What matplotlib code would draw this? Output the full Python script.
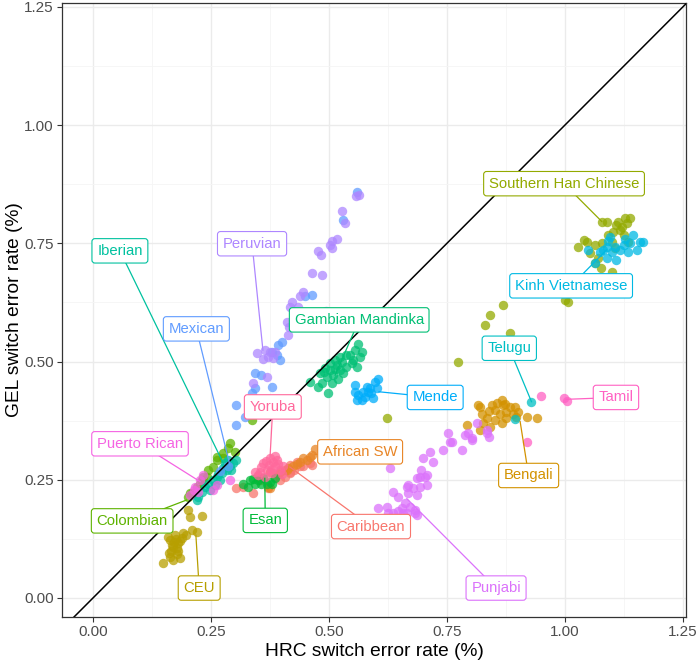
import numpy as np
import matplotlib
matplotlib.use('Agg')
import matplotlib.pyplot as plt

plt.rcParams['font.family'] = ['Liberation Sans', 'DejaVu Sans']

# HRC (x) vs GEL (y) switch error rate, % -- one pair of lists per population
acb_x = [0.304, 0.318, 0.340, 0.371, 0.417, 0.439, 0.463, 0.417, 0.432, 0.446, 0.460, 0.396, 0.386, 0.407, 0.417, 0.350, 0.392, 0.425]
acb_y = [0.232, 0.235, 0.221, 0.232, 0.267, 0.278, 0.281, 0.281, 0.288, 0.278, 0.285, 0.249, 0.256, 0.256, 0.264, 0.258, 0.262, 0.270]

asw_x = [0.354, 0.375, 0.407, 0.414, 0.439, 0.453, 0.460, 0.470, 0.375, 0.463, 0.424, 0.410, 0.396, 0.371, 0.445, 0.432]
asw_y = [0.249, 0.267, 0.271, 0.274, 0.288, 0.292, 0.299, 0.316, 0.232, 0.302, 0.278, 0.271, 0.267, 0.235, 0.295, 0.283]

beb_x = [0.820, 0.824, 0.845, 0.855, 0.866, 0.869, 0.852, 0.862, 0.876, 0.883, 0.894, 0.901, 0.876, 0.866, 0.852, 0.834,
         0.827, 0.841, 0.820, 0.792, 0.919, 0.940, 0.897, 0.890, 0.816, 0.838, 0.873]
beb_y = [0.404, 0.390, 0.408, 0.412, 0.419, 0.408, 0.397, 0.390, 0.394, 0.404, 0.404, 0.394, 0.380, 0.369, 0.376, 0.380,
         0.369, 0.362, 0.355, 0.366, 0.382, 0.380, 0.383, 0.390, 0.408, 0.395, 0.410]

ceu_x = [0.149, 0.163, 0.170, 0.184, 0.177, 0.166, 0.170, 0.177, 0.180, 0.163, 0.159, 0.174, 0.188, 0.191, 0.198, 0.209,
         0.220, 0.202, 0.206, 0.230, 0.172, 0.168, 0.185, 0.175, 0.160, 0.180]
ceu_y = [0.075, 0.087, 0.080, 0.085, 0.094, 0.099, 0.108, 0.106, 0.116, 0.123, 0.129, 0.133, 0.127, 0.137, 0.133, 0.144,
         0.140, 0.186, 0.172, 0.173, 0.118, 0.112, 0.120, 0.125, 0.095, 0.100]

chs_x = [0.622, 0.774, 0.831, 0.841, 0.869, 0.883, 1.000, 1.006, 1.078, 1.088, 1.109, 1.120, 1.131, 1.138, 1.127, 1.117,
         1.102, 1.092, 1.124, 1.028, 1.046, 1.064, 1.078, 1.099, 1.106, 1.053, 1.071, 1.064, 1.076, 1.099, 1.134, 1.040, 1.113]
chs_y = [0.380, 0.500, 0.577, 0.598, 0.619, 0.561, 0.630, 0.625, 0.796, 0.796, 0.789, 0.785, 0.792, 0.803, 0.803, 0.778,
         0.774, 0.767, 0.767, 0.743, 0.753, 0.746, 0.750, 0.753, 0.739, 0.729, 0.718, 0.708, 0.697, 0.690, 0.753, 0.757, 0.795]

clm_x = [0.290, 0.262, 0.276, 0.255, 0.241, 0.230, 0.220, 0.206, 0.202, 0.336, 0.276, 0.301, 0.244, 0.234, 0.227, 0.209, 0.262, 0.285]
clm_y = [0.327, 0.292, 0.296, 0.277, 0.256, 0.249, 0.235, 0.222, 0.214, 0.376, 0.306, 0.309, 0.271, 0.256, 0.242, 0.221, 0.299, 0.318]

esn_x = [0.333, 0.343, 0.329, 0.349, 0.361, 0.375, 0.386, 0.368, 0.318, 0.355, 0.340, 0.380]
esn_y = [0.249, 0.242, 0.235, 0.249, 0.253, 0.246, 0.253, 0.242, 0.242, 0.240, 0.252, 0.240]

gwd_x = [0.562, 0.571, 0.566, 0.551, 0.537, 0.523, 0.513, 0.502, 0.492, 0.481, 0.495, 0.509, 0.523, 0.537, 0.548, 0.460,
         0.477, 0.498, 0.485, 0.506, 0.520, 0.530, 0.559, 0.502, 0.516, 0.527, 0.545, 0.555, 0.512, 0.490]
gwd_y = [0.538, 0.521, 0.510, 0.503, 0.514, 0.510, 0.503, 0.496, 0.486, 0.475, 0.468, 0.471, 0.482, 0.489, 0.496, 0.457,
         0.447, 0.434, 0.454, 0.454, 0.464, 0.475, 0.489, 0.482, 0.493, 0.500, 0.514, 0.524, 0.485, 0.478]

ibs_x = [0.297, 0.290, 0.283, 0.273, 0.262, 0.255, 0.244, 0.237, 0.230, 0.223, 0.220, 0.304, 0.280, 0.269, 0.248, 0.258, 0.287, 0.265, 0.292, 0.276]
ibs_y = [0.285, 0.278, 0.271, 0.264, 0.256, 0.249, 0.242, 0.235, 0.225, 0.214, 0.207, 0.292, 0.285, 0.249, 0.228, 0.239, 0.292, 0.262, 0.270, 0.275]

itu_x = [0.929, 0.894]
itu_y = [0.415, 0.378]

khv_x = [1.095, 1.145, 1.159, 1.166, 1.152, 1.134, 1.138, 1.124, 1.117, 1.106, 1.088, 1.081, 1.074, 1.109, 1.088, 1.049, 1.064, 1.099, 1.127, 1.092]
khv_y = [0.764, 0.767, 0.753, 0.753, 0.736, 0.732, 0.750, 0.746, 0.736, 0.743, 0.743, 0.736, 0.732, 0.715, 0.718, 0.736, 0.708, 0.732, 0.760, 0.755]

msl_x = [0.604, 0.597, 0.601, 0.590, 0.594, 0.580, 0.583, 0.573, 0.569, 0.562, 0.555, 0.555, 0.559, 0.576, 0.587]
msl_y = [0.464, 0.457, 0.443, 0.433, 0.422, 0.447, 0.436, 0.436, 0.419, 0.429, 0.450, 0.436, 0.419, 0.426, 0.445]

mxl_x = [0.559, 0.529, 0.449, 0.463, 0.400, 0.393, 0.389, 0.396, 0.343, 0.357, 0.379, 0.336, 0.343, 0.302, 0.304, 0.322, 0.285, 0.270, 0.380]
mxl_y = [0.859, 0.799, 0.638, 0.641, 0.542, 0.535, 0.514, 0.503, 0.475, 0.471, 0.447, 0.433, 0.443, 0.408, 0.366, 0.383, 0.280, 0.268, 0.520]

pel_x = [0.564, 0.557, 0.527, 0.534, 0.518, 0.506, 0.502, 0.506, 0.477, 0.483, 0.465, 0.485, 0.446, 0.439, 0.421, 0.435,
         0.417, 0.494, 0.410, 0.416, 0.414, 0.364, 0.347, 0.382, 0.368, 0.375, 0.371, 0.340, 0.386, 0.360]
pel_y = [0.852, 0.850, 0.819, 0.792, 0.760, 0.755, 0.746, 0.739, 0.734, 0.725, 0.688, 0.683, 0.648, 0.638, 0.626, 0.616,
         0.616, 0.607, 0.584, 0.574, 0.556, 0.524, 0.517, 0.507, 0.468, 0.521, 0.510, 0.454, 0.521, 0.505]

pjl_x = [0.813, 0.834, 0.839, 0.795, 0.802, 0.753, 0.760, 0.781, 0.742, 0.714, 0.700, 0.721, 0.696, 0.686, 0.703, 0.707,
         0.693, 0.679, 0.665, 0.668, 0.686, 0.661, 0.654, 0.672, 0.682, 0.665, 0.629, 0.604, 0.622, 0.636, 0.647, 0.657,
         0.682, 0.686, 0.636, 0.668, 0.788, 0.802, 0.834, 0.693, 0.707, 0.647, 0.626, 0.756]
pjl_y = [0.369, 0.355, 0.341, 0.348, 0.334, 0.348, 0.330, 0.313, 0.313, 0.309, 0.297, 0.288, 0.271, 0.253, 0.256, 0.239,
         0.235, 0.232, 0.235, 0.221, 0.218, 0.200, 0.190, 0.193, 0.179, 0.179, 0.274, 0.190, 0.193, 0.179, 0.183, 0.179,
         0.186, 0.175, 0.225, 0.239, 0.345, 0.338, 0.348, 0.256, 0.260, 0.214, 0.179, 0.330]

pur_x = [0.213, 0.227, 0.255, 0.290, 0.234, 0.216, 0.223, 0.205, 0.262]
pur_y = [0.228, 0.249, 0.228, 0.249, 0.260, 0.235, 0.225, 0.218, 0.238]

stu_x = [0.950, 0.997, 1.004, 0.920]
stu_y = [0.427, 0.422, 0.417, 0.330]

yri_x = [0.361, 0.375, 0.389, 0.386, 0.368, 0.354, 0.379, 0.396, 0.343, 0.364, 0.403, 0.372, 0.382, 0.393, 0.357, 0.400, 0.366, 0.378, 0.350, 0.385]
yri_y = [0.285, 0.295, 0.292, 0.278, 0.271, 0.267, 0.264, 0.271, 0.267, 0.256, 0.278, 0.282, 0.287, 0.283, 0.276, 0.262, 0.290, 0.270, 0.260, 0.300]

# population order (alphabetical by 1000G code, as ggplot colours them)
pops = ['Caribbean', 'African SW', 'Bengali', 'CEU', 'Southern Han Chinese', 'Colombian', 'Esan',
        'Gambian Mandinka', 'Iberian', 'Telugu', 'Kinh Vietnamese', 'Mende', 'Mexican', 'Peruvian',
        'Punjabi', 'Puerto Rican', 'Tamil', 'Yoruba']
xs = [acb_x, asw_x, beb_x, ceu_x, chs_x, clm_x, esn_x, gwd_x, ibs_x, itu_x, khv_x, msl_x, mxl_x, pel_x, pjl_x, pur_x, stu_x, yri_x]
ys = [acb_y, asw_y, beb_y, ceu_y, chs_y, clm_y, esn_y, gwd_y, ibs_y, itu_y, khv_y, msl_y, mxl_y, pel_y, pjl_y, pur_y, stu_y, yri_y]

# label placement (label centre, point the segment goes to)
label_pos = {
    'Caribbean': (0.589, 0.151, 0.417, 0.277),
    'African SW': (0.566, 0.309, 0.470, 0.303),
    'Bengali': (0.923, 0.259, 0.905, 0.373),
    'CEU': (0.225, 0.021, 0.218, 0.133),
    'Southern Han Chinese': (0.998, 0.876, 1.078, 0.796),
    'Colombian': (0.083, 0.163, 0.198, 0.207),
    'Esan': (0.365, 0.164, 0.364, 0.253),
    'Gambian Mandinka': (0.564, 0.588, 0.513, 0.471),
    'Iberian': (0.057, 0.734, 0.276, 0.285),
    'Telugu': (0.882, 0.528, 0.929, 0.415),
    'Kinh Vietnamese': (1.013, 0.660, 1.088, 0.736),
    'Mende': (0.725, 0.424, 0.606, 0.436),
    'Mexican': (0.219, 0.569, 0.290, 0.281),
    'Peruvian': (0.337, 0.749, 0.360, 0.524),
    'Punjabi': (0.854, 0.021, 0.665, 0.210),
    'Puerto Rican': (0.0996, 0.326, 0.227, 0.246),
    'Tamil': (1.108, 0.424, 1.002, 0.420),
    'Yoruba': (0.381, 0.404, 0.375, 0.296),
}


def hue_pal(n, c=100, l=65):
    # same as scales::hue_pal in R (HCL -> sRGB)
    hues = 15 + 360 * np.arange(n) / n
    Xn, Yn, Zn = 95.047, 100.0, 108.883
    un = 4 * Xn / (Xn + 15 * Yn + 3 * Zn)
    vn = 9 * Yn / (Xn + 15 * Yn + 3 * Zn)
    out = []
    for h in hues:
        hr = np.deg2rad(h)
        u, v = c * np.cos(hr), c * np.sin(hr)
        Y = Yn * ((l + 16) / 116) ** 3
        up = u / (13 * l) + un
        vp = v / (13 * l) + vn
        X = 9 * Y * up / (4 * vp)
        Z = Y * (12 - 3 * up - 20 * vp) / (4 * vp)
        X, Y, Z = X / 100, Y / 100, Z / 100
        rgb = np.array([3.2404542 * X - 1.5371385 * Y - 0.4985314 * Z,
                        -0.9692660 * X + 1.8760108 * Y + 0.0415560 * Z,
                        0.0556434 * X - 0.2040259 * Y + 1.0572252 * Z])
        rgb = np.where(rgb <= 0.0031308, 12.92 * rgb, 1.055 * np.abs(rgb) ** (1 / 2.4) - 0.055)
        out.append(tuple(np.clip(rgb, 0, 1)))
    return out


cols = hue_pal(len(pops))

fig = plt.figure(figsize=(6.98, 6.71), dpi=100)
ax = fig.add_axes([0.0888, 0.0805, 0.894, 0.915])

for name, x, y, col in zip(pops, xs, ys, cols):
    ax.scatter(x, y, s=46, color=col, alpha=0.75, linewidths=0, zorder=2)

ax.axline((0, 0), slope=1, color='black', lw=1.1, zorder=3)

for name, col in zip(pops, cols):
    lx, ly, tx, ty = label_pos[name]
    ax.plot([lx, tx], [ly, ty], color=col, lw=0.9, zorder=4)
    ax.text(lx, ly, name, color=col, fontsize=10.7, ha='center', va='center', zorder=5,
            bbox=dict(boxstyle='round,pad=0.35,rounding_size=0.2', fc='white', ec=col, lw=0.8))

ax.set_xlim(-0.0657, 1.2564)
ax.set_ylim(-0.0402, 1.258)
ticks = [0.0, 0.25, 0.5, 0.75, 1.0, 1.25]
ax.set_xticks(ticks)
ax.set_yticks(ticks)
ax.set_xticklabels(['%.2f' % t for t in ticks])
ax.set_yticklabels(['%.2f' % t for t in ticks])
ax.set_xticks([0.125, 0.375, 0.625, 0.875, 1.125], minor=True)
ax.set_yticks([0.125, 0.375, 0.625, 0.875, 1.125], minor=True)
ax.grid(which='major', color='#EBEBEB', lw=1.0, zorder=0)
ax.grid(which='minor', color='#F5F5F5', lw=0.6, zorder=0)
ax.set_axisbelow(True)
ax.tick_params(which='major', colors='#333333', labelcolor='#4D4D4D', labelsize=11, length=3.5, width=0.8, pad=2.5)
ax.tick_params(which='minor', length=0)
for sp in ax.spines.values():
    sp.set_color('#333333')
    sp.set_linewidth(0.9)

ax.set_xlabel('HRC switch error rate (%)', fontsize=13.75, labelpad=3)
ax.set_ylabel('GEL switch error rate (%)', fontsize=13.75, labelpad=1)

fig.savefig('out.png', dpi=100)
